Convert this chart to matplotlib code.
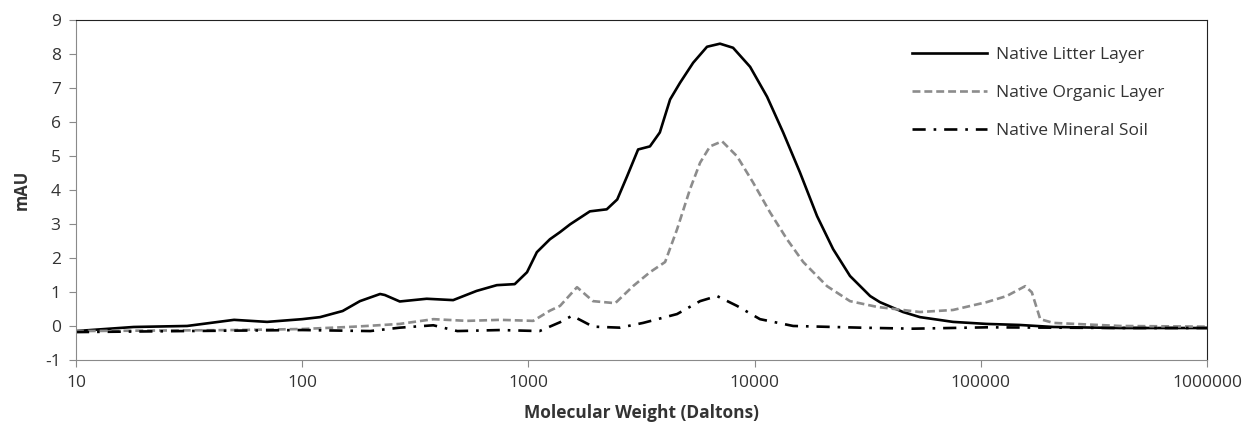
import matplotlib
matplotlib.use("Agg")
import matplotlib.pyplot as plt
from matplotlib.ticker import FixedLocator, FixedFormatter, NullLocator

plt.rcParams["font.family"] = ["Open Sans", "DejaVu Sans"]
plt.rcParams["axes.unicode_minus"] = False

# Native Litter Layer (solid black)
litter_mw = [10, 18, 31, 50, 70, 100, 120, 151, 180, 221, 232, 270, 355, 465, 590,
             725, 870, 986, 1090, 1245, 1380, 1530, 1870, 2220, 2470, 2730, 3055,
             3445, 3810, 4230, 4680, 5350, 6160, 7030, 8030, 9550, 11350, 13370,
             15850, 18880, 22230, 26400, 32400, 35800, 45300, 53800, 75300, 106000,
             148000, 209000, 412000, 1000000]
litter_mau = [-0.15, -0.03, 0.0, 0.18, 0.12, 0.2, 0.26, 0.44, 0.73, 0.94, 0.91, 0.72,
              0.8, 0.76, 1.03, 1.2, 1.23, 1.58, 2.17, 2.55, 2.76, 2.99, 3.37, 3.43,
              3.72, 4.4, 5.19, 5.28, 5.69, 6.66, 7.15, 7.74, 8.21, 8.3, 8.18, 7.62,
              6.74, 5.69, 4.52, 3.23, 2.26, 1.47, 0.88, 0.7, 0.41, 0.26, 0.12, 0.06,
              0.03, -0.03, -0.06, -0.06]

# Native Organic Layer (grey dashed)
organic_mw = [10, 50, 100, 160, 193, 270, 380, 535, 750, 1050, 1245, 1380, 1640, 1930,
              2420, 2900, 3445, 4020, 4540, 5180, 5740, 6350, 7180, 8360, 9840, 11700,
              13900, 16400, 20900, 26400, 34800, 53800, 75300, 106000, 130000, 157000,
              168000, 183000, 209000, 412000, 1000000]
organic_mau = [-0.15, -0.12, -0.09, -0.03, 0.0, 0.06, 0.2, 0.15, 0.18, 0.15, 0.45,
               0.59, 1.14, 0.73, 0.67, 1.17, 1.58, 1.88, 2.84, 4.02, 4.8, 5.28, 5.43,
               4.99, 4.22, 3.34, 2.55, 1.88, 1.17, 0.73, 0.56, 0.41, 0.47, 0.7, 0.88,
               1.17, 0.99, 0.2, 0.09, 0.0, -0.02]

# Native Mineral Soil (black dash-dot)
mineral_mw = [10, 30, 100, 200, 270, 380, 485, 750, 1120, 1380, 1560, 1725, 1930, 2540,
              3215, 4540, 5740, 6820, 8360, 10560, 14800, 29300, 50000, 106000,
              412000, 1000000]
mineral_mau = [-0.18, -0.15, -0.12, -0.15, -0.05, 0.02, -0.15, -0.12, -0.15, 0.11,
               0.3, 0.15, -0.02, -0.05, 0.09, 0.35, 0.73, 0.88, 0.59, 0.2, 0.0, -0.05,
               -0.08, -0.04, -0.06, -0.06]

x_ticks = [10, 100, 1000, 10000, 100000, 1000000]
x_labels = ["10", "100", "1000", "10000", "100000", "1000000"]
y_ticks = list(range(-1, 10))

fig = plt.figure(figsize=(12.43, 4.23), dpi=100)
ax = fig.add_axes([0.0611, 0.149, 0.910, 0.804])

ax.plot(litter_mw, litter_mau, color="black", lw=1.9, label="Native Litter Layer")
ax.plot(organic_mw, organic_mau, color="#8c8c8c", lw=1.9, ls=(0, (3, 1.5)),
        label="Native Organic Layer")
ax.plot(mineral_mw, mineral_mau, color="black", lw=1.9, ls=(0, (5, 3, 1, 3)),
        label="Native Mineral Soil")

ax.set_xscale("log")
ax.set_xlim(10, 1000000)
ax.set_ylim(-1, 9)
ax.xaxis.set_major_locator(FixedLocator(x_ticks))
ax.xaxis.set_major_formatter(FixedFormatter(x_labels))
ax.xaxis.set_minor_locator(NullLocator())
ax.set_yticks(y_ticks)

for side in ("left", "bottom"):
    ax.spines[side].set_color("#8a8a8a")
for side in ("top", "right"):
    ax.spines[side].set_color("#222222")
ax.tick_params(axis="both", direction="out", colors="#8a8a8a", labelcolor="#333333",
               labelsize=12.5, length=5)
ax.tick_params(axis="x", pad=6)
ax.tick_params(axis="y", pad=6)

ax.set_xlabel("Molecular Weight (Daltons)", fontsize=12.5, fontweight="bold",
              color="#333333", labelpad=9)
ax.set_ylabel("mAU", fontsize=12, fontweight="bold", color="#333333", labelpad=10)

leg = ax.legend(loc="upper left", bbox_to_anchor=(0.733, 0.941), borderaxespad=0,
                frameon=False, fontsize=12.5, handlelength=4.3, labelspacing=1.27,
                handletextpad=0.55)
for t in leg.get_texts():
    t.set_color("#333333")

fig.savefig("out.png", dpi=100)
